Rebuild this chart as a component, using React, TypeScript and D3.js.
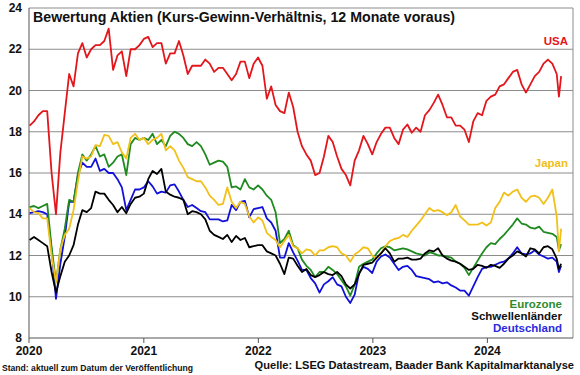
import React from "react";
import * as d3 from "d3";

const START = "2020-01-03";
const yTicks = [8, 10, 12, 14, 16, 18, 20, 22, 24];
const xTickYears = [2020, 2021, 2022, 2023, 2024];

const usa = [18.3,18.5,18.8,19.0,19.0,16.0,14.0,17.0,18.9,20.8,20.2,21.8,22.3,21.6,22.0,22.2,22.2,22.4,23.0,21.0,21.7,21.9,20.7,22.0,22.0,22.2,22.5,22.6,22.1,22.3,22.3,21.3,21.8,21.8,22.4,21.7,20.8,21.2,21.2,21.2,21.5,21.3,20.9,21.1,21.1,20.8,20.5,20.8,21.4,21.4,20.6,21.3,21.6,21.2,19.6,20.2,19.3,19.0,18.9,19.9,19.2,18.0,17.3,16.9,16.6,15.9,16.0,16.8,17.8,17.5,16.8,16.2,15.9,15.4,16.6,17.1,17.8,17.4,16.9,17.5,17.9,18.2,18.2,17.7,17.4,18.1,18.35,17.95,18.2,18.0,18.8,19.05,19.4,19.8,19.3,18.7,18.7,18.3,18.3,18.1,17.5,18.5,18.9,18.8,19.5,19.7,19.8,20.2,20.3,20.6,20.9,21.0,20.3,19.9,20.3,20.7,20.9,21.3,21.5,21.3,20.8,19.7,20.7];
const japan = [14.3,14.1,14.05,13.8,13.8,12.0,10.7,12.3,13.0,13.3,14.2,15.6,16.8,16.7,16.8,17.35,17.3,17.85,17.8,17.4,17.5,17.0,16.7,17.7,17.9,17.6,17.7,17.4,17.6,17.7,17.9,17.1,17.3,17.1,16.6,16.25,15.8,15.7,15.6,15.6,15.3,14.9,14.7,14.45,14.5,15.3,14.6,14.3,14.6,14.5,13.9,13.6,13.85,13.7,13.1,12.9,12.75,12.4,12.7,13.0,12.45,12.35,12.1,12.3,12.25,12.0,12.25,12.25,12.4,12.45,12.4,12.1,12.0,11.7,12.05,12.2,12.4,12.35,12.0,11.85,12.1,12.45,12.7,12.8,12.85,13.0,12.9,13.2,13.45,13.7,14.0,14.3,14.15,14.2,14.1,13.95,14.1,14.45,13.9,13.7,13.5,13.5,13.5,13.6,13.45,13.6,14.3,14.6,15.05,14.9,15.1,15.2,14.8,14.6,14.85,14.9,14.8,14.5,14.8,15.2,13.9,12.2,13.3];
const eurozone = [14.35,14.4,14.3,14.4,14.5,12.4,10.7,12.3,13.3,14.7,14.6,16.0,16.9,16.6,16.9,17.3,16.8,16.9,16.3,16.5,16.8,16.9,15.9,17.4,17.7,17.6,17.7,17.6,17.9,17.4,17.6,17.3,17.8,18.0,17.9,17.7,17.4,17.3,17.5,17.3,16.9,16.4,16.5,16.6,16.55,16.3,15.3,15.35,15.2,15.7,15.3,15.2,15.4,15.2,14.9,14.7,14.1,12.6,12.8,13.2,12.5,12.35,11.8,11.5,11.3,10.95,11.2,11.2,11.45,11.3,11.1,10.8,10.5,10.05,10.6,11.45,11.6,11.7,11.8,12.1,12.35,12.45,12.4,12.25,12.3,12.35,12.3,12.2,12.1,12.05,12.0,12.15,12.1,12.0,12.0,11.95,11.9,11.7,11.6,11.4,11.05,11.4,11.75,12.1,12.4,12.6,12.55,12.8,13.0,13.25,13.5,13.8,13.55,13.5,13.35,13.3,13.4,13.15,13.1,13.05,12.9,12.25,12.55];
const emerging = [12.75,12.9,12.75,12.6,12.45,11.2,10.2,11.0,11.7,12.0,12.5,13.5,14.2,14.1,14.3,15.1,15.0,15.0,14.7,14.45,14.1,14.35,14.05,14.5,14.8,14.85,15.0,15.7,16.1,15.95,16.2,15.1,14.95,14.85,14.8,14.7,14.0,14.15,14.1,14.0,13.75,13.2,13.0,12.9,12.8,13.0,12.65,12.95,12.75,12.85,12.4,12.45,12.5,12.5,12.2,12.1,12.0,11.6,11.1,11.9,11.85,11.5,11.2,11.35,11.05,10.95,11.05,11.2,11.1,11.05,11.2,11.0,10.6,10.4,10.6,11.1,11.55,11.6,11.65,11.9,12.1,12.35,12.1,11.7,11.85,11.85,11.9,11.8,11.8,11.85,12.1,12.25,12.2,12.35,12.0,11.85,11.75,11.7,11.6,11.45,11.3,11.35,11.55,11.5,11.4,11.55,11.5,11.4,11.6,11.85,12.0,12.2,12.1,11.95,12.35,12.3,12.1,12.4,12.45,12.3,11.85,11.35,11.6];
const germany = [14.05,14.1,14.15,14.1,14.0,12.3,9.9,11.6,12.9,14.6,14.6,15.9,16.5,16.3,16.3,16.7,16.1,16.2,16.0,16.0,15.7,15.3,14.2,14.7,15.2,15.2,15.3,15.6,15.35,15.0,15.1,15.05,15.4,15.45,15.1,14.7,14.35,14.45,14.3,14.15,14.1,13.75,13.75,13.75,13.65,13.7,14.45,14.2,14.6,14.65,13.85,14.25,14.3,14.35,13.8,13.6,13.2,11.9,11.9,12.6,12.15,11.75,11.3,11.3,10.9,10.65,10.2,10.6,10.75,10.95,10.6,10.5,10.0,9.7,10.1,11.15,11.45,11.35,11.15,11.7,11.95,12.05,11.9,11.6,11.3,11.45,11.5,11.3,11.0,10.95,10.9,10.85,10.7,10.75,10.65,10.7,10.55,10.45,10.3,10.3,10.05,10.5,10.95,11.35,11.45,11.45,11.55,11.65,11.7,11.85,12.1,12.4,12.1,12.05,12.1,12.25,12.05,11.95,11.85,11.9,11.7,11.2,11.5];

const seriesList = [
  { name: "Deutschland", values: germany, color: "#1010d8" },
  { name: "Eurozone", values: eurozone, color: "#1f8a1f" },
  { name: "Japan", values: japan, color: "#f2c01a" },
  { name: "Schwellenländer", values: emerging, color: "#000000" },
  { name: "USA", values: usa, color: "#e3161c" },
];

const labels = [
  { text: "USA", color: "#e3161c", v: 22.4, right: 568 },
  { text: "Japan", color: "#f0c020", v: 16.48, right: 568 },
  { text: "Eurozone", color: "#2e8b2e", v: 9.65, right: 562 },
  { text: "Schwellenländer", color: "#111111", v: 9.07, right: 562 },
  { text: "Deutschland", color: "#2a2ae0", v: 8.5, right: 562 },
];

const W = 580, H = 375;
const M = { left: 29, right: 573, top: 8, bottom: 338 };

function dateAt(i: number): Date {
  const s = new Date(START + "T00:00:00");
  // two-week steps, final two observations weekly
  const days = i <= 120 ? i * 14 : 120 * 14 + (i - 120) * 7;
  return d3.timeDay.offset(s, days);
}

export default function App() {
  const x = d3.scaleTime()
    .domain([new Date(2020, 0, 1), new Date(2024, 9, 1)])
    .range([M.left, M.left + 114.6 * 4.75]);
  const y = d3.scaleLinear().domain([8, 24]).range([M.bottom, M.top]);

  const line = d3.line<number>()
    .x((_, i) => x(dateAt(i)))
    .y((v) => y(v));

  const font = "'Liberation Sans', Arial, sans-serif";

  return (
    <svg width={W} height={H} style={{ position: "absolute", left: 0, top: 0, background: "#fff" }} fontFamily={font}>
      <rect x={0} y={0} width={W} height={H} fill="#fff" />
      {yTicks.filter((t) => t > 8).map((t) => (
        <line key={t} x1={M.left} x2={M.right} y1={y(t)} y2={y(t)} stroke="#8c8c8c" strokeWidth={1} />
      ))}
      <line x1={M.right} x2={M.right} y1={M.top} y2={M.bottom} stroke="#8c8c8c" strokeWidth={1} />
      <line x1={M.left} x2={M.left} y1={M.top} y2={M.bottom} stroke="#555" strokeWidth={1} />
      <line x1={M.left} x2={M.right} y1={M.bottom} y2={M.bottom} stroke="#555" strokeWidth={1} />
      {xTickYears.map((yr) => (
        <line key={yr} x1={x(new Date(yr, 0, 1))} x2={x(new Date(yr, 0, 1))} y1={M.bottom} y2={M.bottom + 5} stroke="#555" />
      ))}
      {yTicks.map((t) => (
        <text key={t} x={22} y={y(t) + 4} textAnchor="end" fontSize={12} fontWeight="bold" fill="#111">{t}</text>
      ))}
      {xTickYears.map((yr) => (
        <text key={yr} x={x(new Date(yr, 0, 1))} y={355} textAnchor="middle" fontSize={12} fontWeight="bold" fill="#111">{yr}</text>
      ))}
      {seriesList.map((s) => (
        <path key={s.name} d={line(s.values) || ""} fill="none" stroke={s.color} strokeWidth={1.8} strokeLinejoin="round" />
      ))}
      <text x={33} y={22} fontSize={14.2} fontWeight="bold" fill="#111">Bewertung Aktien (Kurs-Gewinn-Verhältnis, 12 Monate voraus)</text>
      {labels.map((l) => (
        <text key={l.text} x={l.right} y={y(l.v) + 4} textAnchor="end" fontSize={11.5} fontWeight="bold" fill={l.color}>{l.text}</text>
      ))}
      <text x={2} y={371} fontSize={8.6} fontWeight="bold" fill="#111">Stand: aktuell zum Datum der Veröffentlichung</text>
      <text x={574} y={369} textAnchor="end" fontSize={11.1} fontWeight="bold" fill="#111">Quelle: LSEG Datastream, Baader Bank Kapitalmarktanalyse</text>
    </svg>
  );
}
